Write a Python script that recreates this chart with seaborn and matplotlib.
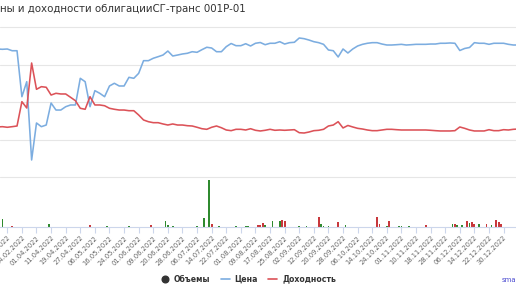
import numpy as np
import pandas as pd
import matplotlib
matplotlib.use("Agg")
import matplotlib.pyplot as plt
import seaborn as sns
from matplotlib.lines import Line2D

# ---------------- data ----------------
title = "ны и доходности облигацииСГ-транс 001P-01"

tick_labels = [
    "16.02.2022", "24.02.2022", "01.04.2022", "11.04.2022", "19.04.2022", "27.04.2022",
    "06.05.2022", "16.05.2022", "24.05.2022", "01.06.2022", "09.06.2022", "20.06.2022",
    "28.06.2022", "06.07.2022", "14.07.2022", "22.07.2022", "01.08.2022", "09.08.2022",
    "17.08.2022", "25.08.2022", "02.09.2022", "12.09.2022", "20.09.2022", "28.09.2022",
    "06.10.2022", "14.10.2022", "24.10.2022", "01.11.2022", "10.11.2022", "18.11.2022",
    "28.11.2022", "06.12.2022", "14.12.2022", "22.12.2022", "30.12.2022", "11.01.2023",
    "19.01.2023",
]

# price, every second trading day
price = [
    97.08, 97.04, 97.08, 96.85, 96.85, 90.75, 92.74, 82.35, 87.26, 86.77,
    86.99, 89.91, 88.98, 88.98, 89.42, 89.65, 89.65, 93.19, 92.74, 89.42,
    91.55, 91.20, 90.75, 92.17, 92.53, 92.17, 92.17, 93.32, 93.19, 93.85,
    95.53, 95.53, 95.85, 96.06, 96.28, 96.81, 96.15, 96.28, 96.42, 96.51,
    96.72, 96.64, 96.99, 97.31, 97.21, 96.72, 96.72, 97.39, 97.81, 97.52,
    97.52, 97.78, 97.48, 97.84, 97.94, 97.65, 97.84, 97.84, 98.05, 97.74,
    97.92, 97.97, 98.54, 98.45, 98.27, 98.05, 97.92, 97.70, 96.95, 96.85,
    96.02, 97.08, 96.55, 97.08, 97.48, 97.70, 97.84, 97.92, 97.92, 97.74,
    97.61, 97.61, 97.65, 97.70, 97.61, 97.65, 97.70, 97.70, 97.70, 97.74,
    97.74, 97.84, 97.84, 97.88, 97.84, 96.88, 97.15, 97.28, 97.92, 97.84,
    97.84, 97.70, 97.84, 97.84, 97.84, 97.70, 97.61, 97.61,
]

# yield, %, every second trading day
yld = [
    11.73, 11.77, 11.69, 11.77, 11.86, 15.09, 14.25, 20.22, 16.73, 17.08,
    17.00, 15.97, 16.20, 16.11, 16.11, 15.67, 15.22, 14.21, 14.08, 15.75,
    14.65, 14.65, 14.55, 14.21, 14.08, 13.98, 13.98, 13.89, 13.89, 13.32,
    12.66, 12.43, 12.30, 12.30, 12.13, 11.99, 12.13, 11.99, 11.99, 11.90,
    11.86, 11.69, 11.50, 11.42, 11.69, 11.86, 11.63, 11.33, 11.24, 11.42,
    11.42, 11.33, 11.50, 11.29, 11.20, 11.29, 11.42, 11.29, 11.33, 11.29,
    11.33, 11.37, 10.97, 10.93, 11.06, 11.24, 11.29, 11.42, 11.86, 11.99,
    12.43, 11.60, 11.93, 11.73, 11.55, 11.46, 11.33, 11.24, 11.24, 11.33,
    11.42, 11.42, 11.37, 11.33, 11.33, 11.33, 11.33, 11.33, 11.33, 11.29,
    11.24, 11.20, 11.20, 11.20, 11.24, 11.73, 11.55, 11.33, 11.20, 11.20,
    11.20, 11.37, 11.24, 11.24, 11.37, 11.33, 11.42, 11.46,
]

# volumes (trading-day number, value, direction)
vol_day = [-2, 2, 17, 34, 41, 50, 59, 65, 66, 68,
           78, 81, 83, 84, 87, 94, 98, 99, 103, 104,
           105, 106, 109, 112, 113, 114, 120, 123, 128, 129,
           130, 132, 136, 139, 152, 153, 156, 157, 161, 162,
           165, 172, 183, 184, 185, 187, 189, 190, 191, 192,
           194, 197, 199, 201, 202, 203]
vol = [7.7, 1, 2.7, 2, 1, 0.7, 2, 6, 2, 0.7,
       0.7, 9.3, 46.7, 2.7, 0.7, 0.7, 0.7, 0.7, 2.3, 1.7,
       4, 1.7, 6, 6, 6.7, 6, 0.7, 0.7, 10, 2.7,
       0.7, 0.7, 5, 1.7, 10, 2.7, 0.7, 6, 0.7, 0.7,
       0.7, 2.3, 3.3, 3.3, 2, 2.3, 6, 4.3, 5, 3.3,
       3.3, 2.7, 2.3, 6.7, 5, 3.3]
vol_dir = list("grgrggrggg" "gggrggggrr" "rgggrrggrg" "ggrgrrgrgg" "grgrggrgrr" "grgrrr")

legend_labels = ["Объемы", "Цена", "Доходность"]
watermark = "sma"

# ---------------- style ----------------
BLUE = "#7cade0"
RED = "#dc5258"
GREEN = "#2f8a2f"
BARRED = "#c8383c"
GRID = "#e6e6e6"
TEXT = "#333333"

sns.set_theme(style="white")
plt.rcParams["font.family"] = ["DejaVu Sans"]

W, H = 516, 289
fig = plt.figure(figsize=(W / 100, H / 100), dpi=100)
fig.patch.set_facecolor("white")


def rect(l, t, r, b):
    return [l / W, 1 - b / H, (r - l) / W, (b - t) / H]


ax = fig.add_axes(rect(0, 24, W, 165))
ax2 = ax.twinx()
axv = fig.add_axes(rect(0, 175, W, 227), sharex=ax)

day = np.arange(len(price)) * 2 - 4
df = pd.DataFrame({"day": day, "price": price, "yield": yld})

sns.lineplot(data=df, x="day", y="price", ax=ax, color=BLUE, lw=1.15)
sns.lineplot(data=df, x="day", y="yield", ax=ax2, color=RED, lw=1.15)

# gridlines at px 27, 64.7, 102.3, 140
k = 5 / 37.67
ax.set_ylim(100 - (165 - 27) * k, 100 + 3 * k)
ax2.set_ylim(25 - (165 - 27) * k, 25 + 3 * k)
ax.set_yticks([85, 90, 95, 100])
ax.grid(axis="y", color=GRID, lw=0.8)
ax.grid(axis="x", visible=False)
for a in (ax, ax2):
    a.set_xlabel("")
    a.set_ylabel("")
    a.tick_params(left=False, right=False, bottom=False, labelleft=False,
                  labelright=False, labelbottom=False)
    for s in a.spines.values():
        s.set_visible(False)
ax.set_xlim(-3.0, 209.1)

# volumes
colors = [GREEN if d == "g" else BARRED for d in vol_dir]
axv.bar(vol_day, vol, width=0.75, color=colors, linewidth=0)
axv.set_ylim(0, 52)
axv.set_yticks([50])
axv.grid(axis="y", color=GRID, lw=0.8)
axv.grid(axis="x", visible=False)
for s in ("top", "left", "right"):
    axv.spines[s].set_visible(False)
axv.spines["bottom"].set_color("#ccd6eb")
axv.spines["bottom"].set_linewidth(0.8)
axv.tick_params(left=False, labelleft=False)
axv.set_xticks(np.arange(len(tick_labels)) * 6)
axv.set_xticklabels(tick_labels, rotation=45, ha="right", rotation_mode="anchor",
                    fontsize=4.9, color="#666666")
axv.tick_params(axis="x", direction="out", length=4, width=0.8, color="#ccd6eb",
                pad=1.5, bottom=True)
axv.set_xlim(-3.0, 209.1)

# title
fig.text(0 / W, 1 - 9 / H, title, ha="left", va="center", fontsize=7.4, color=TEXT)

# legend
handles = [
    Line2D([], [], marker="o", color="none", markerfacecolor=TEXT,
           markeredgecolor=TEXT, markersize=4.8),
    Line2D([], [], color=BLUE, lw=1.2),
    Line2D([], [], color=RED, lw=1.2),
]
leg = fig.legend(handles, legend_labels, loc="center",
                 bbox_to_anchor=(248 / W, 1 - 279 / H), ncol=3, frameon=False,
                 fontsize=5.6, handlelength=1.2, handletextpad=0.6,
                 columnspacing=1.3, borderpad=0)
for t in leg.get_texts():
    t.set_color(TEXT)
    t.set_fontweight("bold")

fig.text(502 / W, 1 - 280 / H, watermark, ha="left", va="center",
         fontsize=5.0, color="#4a4ad0")

fig.savefig("out.png", dpi=100, facecolor="white")
